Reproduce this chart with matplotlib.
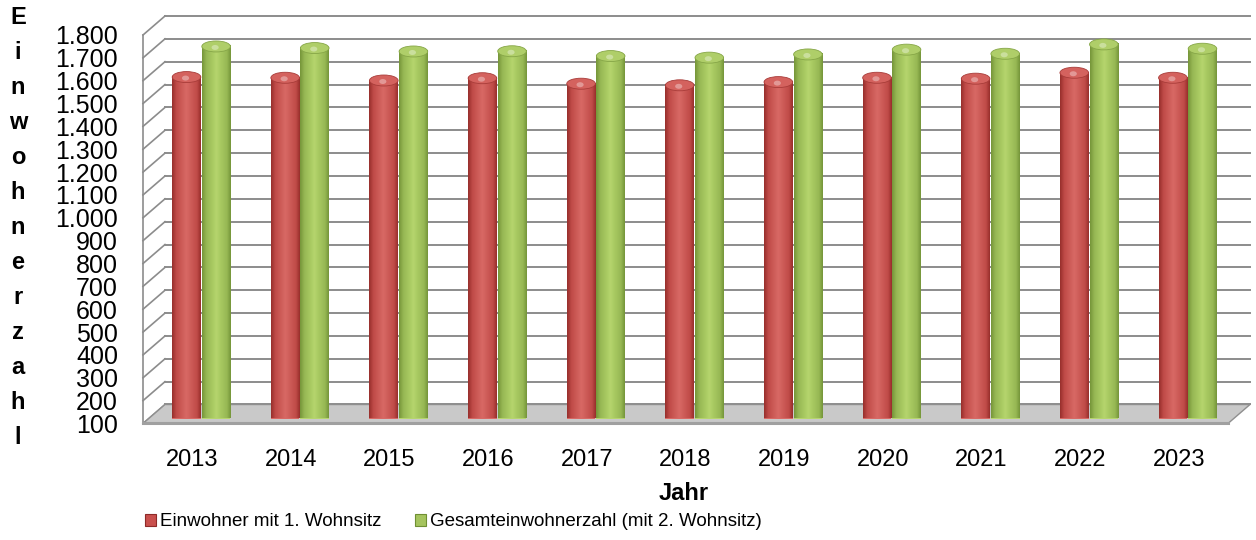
import numpy as np
import matplotlib
matplotlib.use("Agg")
import matplotlib.pyplot as plt
from matplotlib.patches import Polygon, Ellipse, Patch
from matplotlib.transforms import offset_copy
from matplotlib.colors import LinearSegmentedColormap

# ---------------- data ----------------
years = ["2013", "2014", "2015", "2016", "2017", "2018", "2019", "2020", "2021", "2022", "2023"]
erstwohnsitz = [1594, 1591, 1579, 1589, 1565, 1558, 1572, 1591, 1587, 1613, 1591]
gesamt = [1728, 1721, 1706, 1707, 1686, 1679, 1693, 1714, 1696, 1737, 1718]
series_names = ["Einwohner mit 1. Wohnsitz", "Gesamteinwohnerzahl (mit 2. Wohnsitz)"]
y_ticks = list(range(100, 1801, 100))
y_title = "Einwohnerzahl"
x_title = "Jahr"

# ---------------- style ----------------
plt.rcParams['font.family'] = ['Liberation Sans', 'DejaVu Sans']
DPI = 100
fig = plt.figure(figsize=(12.56, 5.40), dpi=DPI)
W, H = 1256, 540

# front plane of the 3D box (pixels)
left_px, right_px = 143, 1228
bottom_px, top_px = 423.5, 35
ax = fig.add_axes([left_px / W, 1 - bottom_px / H,
                   (right_px - left_px) / W, (bottom_px - top_px) / H])
ymin, ymax = 100, 1800
n = len(years)

px_per_x = (right_px - left_px) / n
px_per_y = (bottom_px - top_px) / (ymax - ymin)

# depth offset of back wall (pixels)
DX, DY = 22, 19
ux, uy = DX / px_per_x, DY / px_per_y

grid_col = '#8c8c8c'
for v in y_ticks:
    ax.plot([-0.5 + ux, n - 0.5 + ux], [v + uy, v + uy], color=grid_col,
            lw=1.4, clip_on=False, zorder=0)
    ax.plot([-0.5, -0.5 + ux], [v, v + uy], color=grid_col, lw=1.2,
            clip_on=False, zorder=0)
ax.plot([-0.5, -0.5], [ymin, ymax], color=grid_col, lw=1.2, clip_on=False, zorder=0)

# floor
floor = Polygon([(-0.5, ymin), (n - 0.5, ymin), (n - 0.5 + ux, ymin + uy),
                 (-0.5 + ux, ymin + uy)], closed=True, facecolor='#c9c9c9',
                edgecolor='#8f8f8f', lw=1.0, clip_on=False, zorder=1)
ax.add_patch(floor)
ax.plot([-0.5, n - 0.5], [ymin, ymin], color='#a0a0a0', lw=2.2, clip_on=False, zorder=1)

# bars
bar_off = offset_copy(ax.transData, fig=fig, x=9, y=5, units='dots')
bw = 0.29
sep = 0.15
x = np.arange(n)


def cyl_cmap(dark, mid, light, hi):
    return LinearSegmentedColormap.from_list(
        'c', [(0, dark), (0.15, mid), (0.38, light), (0.5, hi), (0.62, light), (0.87, mid), (1, dark)])


red_cmap = cyl_cmap('#982f2c', '#c04b48', '#d05f5b', '#d86965')
green_cmap = cyl_cmap('#76963a', '#97b854', '#aacb63', '#b6d56e')
grad = np.linspace(0, 1, 64).reshape(1, -1)

for vals, dx, cmap, capcol, edge in [
        (erstwohnsitz, -sep, red_cmap, '#d4625e', '#a83c39'),
        (gesamt, sep, green_cmap, '#afce69', '#86a647')]:
    bars = ax.bar(x + dx, [v - ymin for v in vals], bottom=ymin, width=bw,
                  transform=bar_off, color=cmap(0.5), lw=0, zorder=3, clip_on=False)
    for xi, v, b in zip(x + dx, vals, bars):
        im = ax.imshow(grad, extent=(xi - bw / 2, xi + bw / 2, ymin, v), aspect='auto',
                       cmap=cmap, transform=bar_off, zorder=3.1, interpolation='bilinear',
                       clip_on=False)
        im.set_clip_path(b)
        cap = Ellipse((xi, v), width=bw, height=11 / px_per_y, transform=bar_off,
                      facecolor=capcol, edgecolor=edge, lw=0.6, zorder=3.2, clip_on=False)
        ax.add_patch(cap)
        hl = Ellipse((xi - 0.01, v - 1 / px_per_y), width=bw * 0.25, height=5 / px_per_y,
                     transform=bar_off, facecolor='white', alpha=0.35, lw=0,
                     zorder=3.3, clip_on=False)
        ax.add_patch(hl)

ax.set_xlim(-0.5, n - 0.5)
ax.set_ylim(ymin, ymax)

for s in ax.spines.values():
    s.set_visible(False)
ax.set_xticks(x)
ax.set_xticklabels(years, fontsize=17)
ax.set_yticks(y_ticks)
ax.set_yticklabels([f"{v:,}".replace(",", ".") for v in y_ticks], fontsize=18)
ax.tick_params(axis='both', length=0)
ax.tick_params(axis='x', pad=18)
ax.tick_params(axis='y', pad=18)
ax.patch.set_alpha(0)

# vertical stacked y title
letters = list(y_title)
y0, y1 = 18, 437
for i, ch in enumerate(letters):
    yy = y0 + (y1 - y0) * i / (len(letters) - 1)
    fig.text(18 / W, 1 - yy / H, ch, ha='center', va='center', fontsize=17,
             fontweight='bold')

fig.text(684 / W, 1 - 494 / H, x_title, ha='center', va='center', fontsize=17,
         fontweight='bold')

handles = [Patch(facecolor='#c9504d', edgecolor='#8e2a28', lw=0.8),
           Patch(facecolor='#a5c45e', edgecolor='#6f8f33', lw=0.8)]
fig.legend(handles, series_names, loc='center left', bbox_to_anchor=(145 / W, 1 - 522 / H),
           ncol=2, frameon=False, fontsize=13.5, handlelength=0.6, handleheight=0.6,
           handletextpad=0.2, columnspacing=1.8, borderpad=0, borderaxespad=0)

fig.savefig('out.png', dpi=DPI)
